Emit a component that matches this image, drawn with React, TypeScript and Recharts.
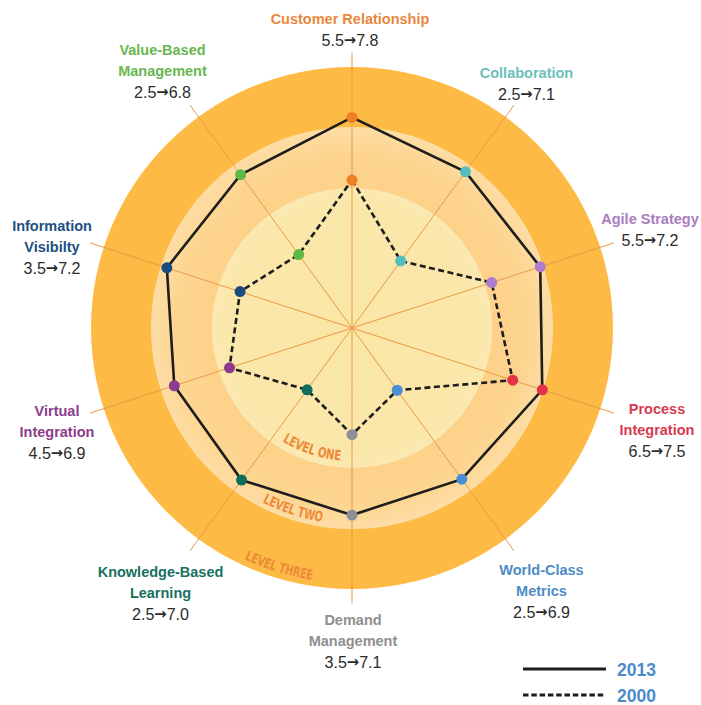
import React from 'react';
import { RadarChart, Radar, PolarGrid, PolarAngleAxis, PolarRadiusAxis, Legend } from 'recharts';

// ---------- data ----------
const CATEGORIES = [
  'Customer Relationship',
  'Collaboration',
  'Agile Strategy',
  'Process Integration',
  'World-Class Metrics',
  'Demand Management',
  'Knowledge-Based Learning',
  'Virtual Integration',
  'Information Visibilty',
  'Value-Based Management',
];
const NAME_LINES = [
  ['Customer Relationship'],
  ['Collaboration'],
  ['Agile Strategy'],
  ['Process', 'Integration'],
  ['World-Class', 'Metrics'],
  ['Demand', 'Management'],
  ['Knowledge-Based', 'Learning'],
  ['Virtual', 'Integration'],
  ['Information', 'Visibilty'],
  ['Value-Based', 'Management'],
];
// scores printed in the labels
const SCORE_2000 = [5.5, 2.5, 5.5, 6.5, 2.5, 3.5, 2.5, 4.5, 3.5, 2.5];
const SCORE_2013 = [7.8, 7.1, 7.2, 7.5, 6.9, 7.1, 7.0, 6.9, 7.2, 6.8];
// positions of the points as drawn in the picture (same 0-10 scale)
const PLOT_2013 = [7.8, 7.15, 7.33, 7.41, 6.92, 6.93, 6.96, 6.92, 7.21, 7.02];
const PLOT_2000 = [5.48, 3.07, 5.44, 6.26, 2.85, 3.95, 2.83, 4.77, 4.36, 3.36];
const SERIES_NAMES = ['2013', '2000'];
const LEVEL_NAMES = ['LEVEL ONE', 'LEVEL TWO', 'LEVEL THREE'];

// ---------- styles ----------
const DOT_COLORS = ['#F07E26', '#56BDBE', '#AD7CCB', '#E2334A', '#4A8FD4', '#8D8E96', '#0F6B5A', '#8E3B8F', '#1B4B7E', '#5DB946'];
const LABEL_COLORS = ['#E8873B', '#6BBFB9', '#A97DC0', '#D73A4F', '#4E8BC6', '#8F8F8F', '#18705F', '#8C3C8A', '#20507F', '#6AB650'];
const LABEL_POS = [
  { x: 350, y: 19 },
  { x: 526.5, y: 72.5 },
  { x: 650, y: 219 },
  { x: 657, y: 408.5 },
  { x: 541.5, y: 570 },
  { x: 353, y: 619.5 },
  { x: 160.5, y: 571.5 },
  { x: 57, y: 410.5 },
  { x: 52, y: 225.5 },
  { x: 162.5, y: 49.5 },
];
const LINE_H = 21;
const FONT = "'Liberation Sans', Arial, sans-serif";
const W = 701;
const H = 705;
const CX = 352;
const CY = 328;
const UNIT = 27; // px per score point
const MAX = 10.2;

const chartData = CATEGORIES.map((c, i) => ({
  category: c,
  y2013: PLOT_2013[i],
  y2000: PLOT_2000[i],
}));

const renderTick = (props: any) => {
  const name = props?.payload?.value;
  const i = CATEGORIES.indexOf(name);
  if (i < 0) return <g />;
  const pos = LABEL_POS[i];
  const lines = NAME_LINES[i];
  return (
    <g>
      {lines.map((ln, k) => (
        <text
          key={k}
          x={pos.x}
          y={pos.y + k * LINE_H}
          textAnchor="middle"
          dominantBaseline="central"
          fill={LABEL_COLORS[i]}
          fontSize={14.5}
          fontWeight={700}
          fontFamily={FONT}
        >
          {ln}
        </text>
      ))}
      <text
        x={pos.x}
        y={pos.y + lines.length * LINE_H}
        textAnchor="middle"
        dominantBaseline="central"
        fill="#2B2B2B"
        fontSize={16.5}
        fontFamily={FONT}
        textLength={57}
        lengthAdjust="spacingAndGlyphs"
      >
        {SCORE_2000[i].toFixed(1)}
        <tspan fontFamily="'DejaVu Sans', sans-serif" fontWeight={700} fontSize={15}>{'\u2192'}</tspan>
        {SCORE_2013[i].toFixed(1)}
      </text>
    </g>
  );
};

const makeDot = (props: any) => {
  const { cx, cy, index, dataKey } = props;
  return <circle key={`${dataKey}-${index}`} cx={cx} cy={cy} r={5.5} fill={DOT_COLORS[index]} stroke="none" />;
};

const renderLegend = (props: any) => {
  const payload = props?.payload || [];
  return (
    <svg width={170} height={48} style={{ display: 'block', overflow: 'visible' }}>
      {SERIES_NAMES.map((name, k) => {
        const entry = payload.find((p: any) => p.value === name);
        const dashed = name === '2000';
        const y = 13 + k * 26;
        return (
          <g key={name}>
            <line
              x1={8}
              y1={y}
              x2={91}
              y2={y}
              stroke={entry?.color || '#1d1d1d'}
              strokeWidth={2.8}
              strokeDasharray={dashed ? '5.5 2.8' : undefined}
            />
            <text x={102} y={y} dominantBaseline="central" fill="#4C8ACA" fontWeight={700} fontSize={19} fontFamily={FONT} textLength={39} lengthAdjust="spacingAndGlyphs">
              {name}
            </text>
          </g>
        );
      })}
    </svg>
  );
};

const arcPath = (r: number, centerDeg: number, spanDeg: number) => {
  const t1 = ((centerDeg + spanDeg / 2) * Math.PI) / 180;
  const t2 = ((centerDeg - spanDeg / 2) * Math.PI) / 180;
  const x1 = CX - r * Math.sin(t1);
  const y1 = CY + r * Math.cos(t1);
  const x2 = CX - r * Math.sin(t2);
  const y2 = CY + r * Math.cos(t2);
  return `M ${x1} ${y1} A ${r} ${r} 0 0 0 ${x2} ${y2}`;
};

const LEVEL_ARCS = [
  { r: 133, c: 18.3, len: 62 },
  { r: 196, c: 18, len: 63 },
  { r: 255, c: 17, len: 71 },
];

export default function App() {
  return (
    <div style={{ position: 'absolute', left: 0, top: 0, width: W, height: H, background: '#fff', overflow: 'hidden' }}>
      <svg width={W} height={H} style={{ position: 'absolute', left: 0, top: 0 }}>
        <defs>
          <radialGradient id="lvl2" cx={CX} cy={CY} r={201} gradientUnits="userSpaceOnUse">
            <stop offset="0.69" stopColor="#FDD189" />
            <stop offset="0.88" stopColor="#FDD590" />
            <stop offset="1" stopColor="#FDDDA6" />
          </radialGradient>
          <radialGradient id="lvl1" cx={CX} cy={CY} r={140} gradientUnits="userSpaceOnUse">
            <stop offset="0" stopColor="#FAE6A6" />
            <stop offset="0.9" stopColor="#FBE7AA" />
            <stop offset="1" stopColor="#FBE9B2" />
          </radialGradient>
          {LEVEL_ARCS.map((a, k) => (
            <path key={k} id={`lvlarc${k}`} d={arcPath(a.r, a.c, 60)} fill="none" />
          ))}
        </defs>
        <circle cx={CX} cy={CY} r={261} fill="#FDBA45" />
        <circle cx={CX} cy={CY} r={201} fill="url(#lvl2)" />
        <circle cx={CX} cy={CY} r={140} fill="url(#lvl1)" />
        {LEVEL_NAMES.map((name, k) => (
          <text key={name} fill="#EC8A3A" fontSize={14} fontWeight={700} fontFamily="'Liberation Sans Narrow', 'DejaVu Sans Condensed', 'Liberation Sans', sans-serif">
            <textPath href={`#lvlarc${k}`} startOffset="50%" textAnchor="middle" textLength={LEVEL_ARCS[k].len} lengthAdjust="spacingAndGlyphs">
              {name}
            </textPath>
          </text>
        ))}
      </svg>
      <div style={{ position: 'absolute', left: 0, top: 0 }}>
        <RadarChart
          width={W}
          height={H}
          data={chartData}
          cx={CX}
          cy={CY}
          innerRadius={0}
          outerRadius={UNIT * MAX}
          startAngle={90}
          endAngle={-270}
          margin={{ top: 0, right: 0, bottom: 0, left: 0 }}
        >
          <PolarGrid gridType="polygon" polarRadius={[]} stroke="#E99A45" strokeWidth={1} />
          <PolarAngleAxis dataKey="category" tick={renderTick} tickLine={false} axisLine={false} />
          <PolarRadiusAxis type="number" domain={[0, MAX]} tick={false} axisLine={false} />
          <Radar
            name="2000"
            dataKey="y2000"
            stroke="#1d1d1d"
            strokeWidth={2.6}
            strokeDasharray="6 3.5"
            fill="none"
            fillOpacity={0}
            dot={makeDot}
            isAnimationActive={false}
          />
          <Radar
            name="2013"
            dataKey="y2013"
            stroke="#1d1d1d"
            strokeWidth={2.6}
            fill="none"
            fillOpacity={0}
            dot={makeDot}
            isAnimationActive={false}
          />
          <Legend
            layout="horizontal"
            verticalAlign="middle"
            align="center"
            content={renderLegend}
            wrapperStyle={{ position: 'absolute', left: 515, top: 656, width: 170, height: 48 }}
          />
        </RadarChart>
      </div>
    </div>
  );
}
